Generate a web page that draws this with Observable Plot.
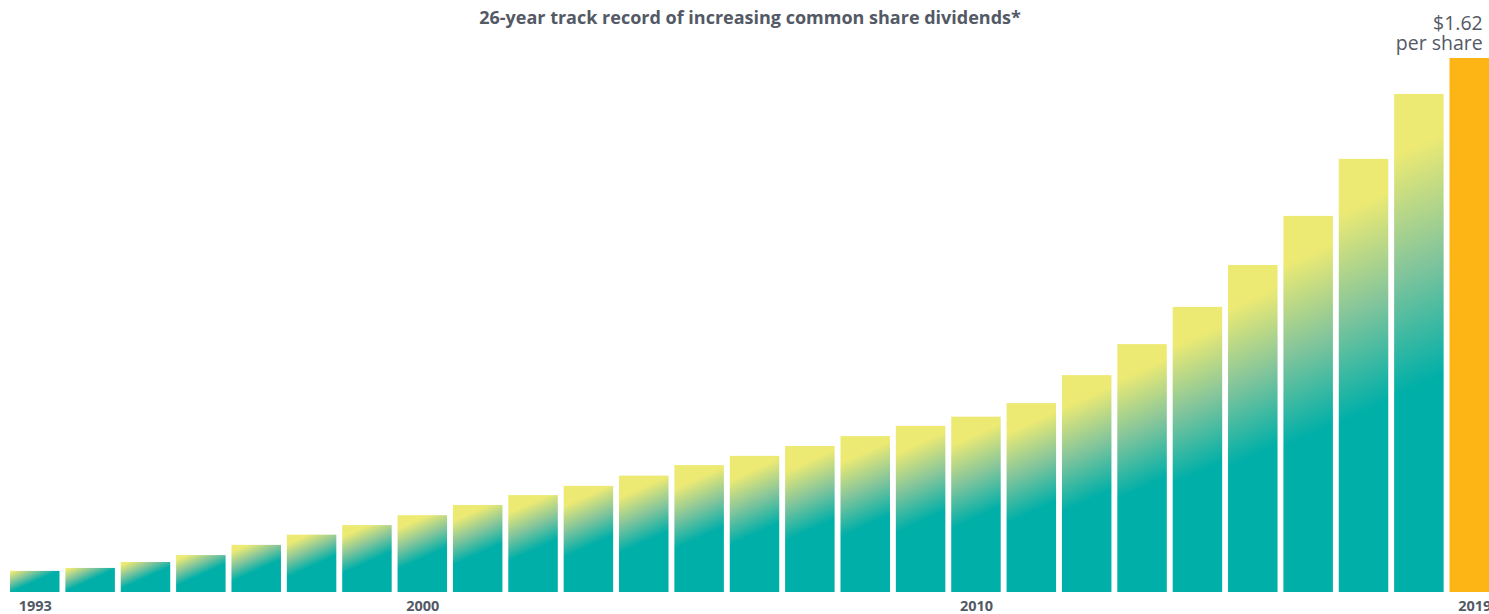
<!DOCTYPE html>
<html>
<head>
<meta charset="utf-8">
<script src="https://cdn.jsdelivr.net/npm/d3@7"></script>
<script src="https://cdn.jsdelivr.net/npm/@observablehq/plot@0.6"></script>
<style>
  html, body { margin: 0; padding: 0; background: #fff; overflow: hidden; }
  #chart { width: 1489px; height: 614px; overflow: hidden; }
  #chart svg { overflow: hidden !important; display: block; }
</style>
</head>
<body>
<div id="chart"></div>
<script>
// Annual common share dividend per share, 1993–2019
const years = [1993, 1994, 1995, 1996, 1997, 1998, 1999, 2000, 2001, 2002, 2003, 2004, 2005, 2006,
               2007, 2008, 2009, 2010, 2011, 2012, 2013, 2014, 2015, 2016, 2017, 2018, 2019];
const dividends = [0.064, 0.073, 0.091, 0.112, 0.143, 0.174, 0.203, 0.233, 0.264, 0.294, 0.322, 0.353,
                   0.385, 0.413, 0.443, 0.473, 0.504, 0.532, 0.573, 0.658, 0.752, 0.865, 0.992, 1.141,
                   1.314, 1.511, 1.62];
const tickYears = [1993, 2000, 2010, 2019];
const title = "26-year track record of increasing common share dividends*";
const latestUnit = "per share";

const rows = years.map((year, i) => ({year, value: dividends[i]}));
const latest = rows[rows.length - 1];

const TEAL = "#00afa8";
const MID = "#84c59b";
const YELLOW = "#edea73";
const ORANGE = "#fdb515";
const INK = "#535965";

const plot = Plot.plot({
  width: 1489,
  height: 614,
  marginTop: 58,
  marginBottom: 22,
  marginLeft: 10,
  marginRight: 0,
  style: {fontFamily: "'Open Sans', sans-serif", background: "#fff", overflow: "hidden"},
  // the band range runs a little past the right edge, so the latest bar is cropped
  x: {type: "band", domain: years, range: [10, 1499], round: false, paddingInner: 0.106, paddingOuter: 0, align: 0},
  y: {domain: [0, 1.62], axis: null},
  color: {type: "identity"},
  marks: [
    Plot.barY(rows, {
      x: "year",
      y: "value",
      fill: d => d.year === latest.year ? ORANGE : `url(#div-grad-${d.year})`
    }),
    Plot.axisX({
      ticks: tickYears,
      tickFormat: d => `${d}`,
      tickSize: 0,
      tickPadding: 8,
      fontSize: 14.5,
      fontWeight: "bold",
      color: INK,
      label: null
    }),
    Plot.text([latest], {
      x: "year",
      y: "value",
      text: d => `$${d.value.toFixed(2)}\n${latestUnit}`,
      textAnchor: "end",
      lineAnchor: "bottom",
      lineHeight: 1.0,
      dx: 8,
      dy: -9,
      fontSize: 19.5,
      fill: INK
    }),
    Plot.text([title], {
      frameAnchor: "top",
      dy: -47,
      fontSize: 18,
      fontWeight: "bold",
      fill: INK
    })
  ]
});

// One diagonal gradient per bar: yellow near the top fading to teal toward the base,
// with colour bands tilted up to the right.
const xs = plot.scale("x");
const ys = plot.scale("y");
const slope = 0.45;
const defs = d3.select(plot).insert("defs", ":first-child");
for (const d of rows) {
  if (d.year === latest.year) continue;
  const w = xs.bandwidth;
  const x0 = xs.apply(d.year);
  const top = ys.apply(d.value);
  const base = ys.apply(0);
  const h = base - top;
  const cx = x0 + w / 2;
  const yA = top + 0.1 * h - 14 * Math.max(0, 1 - h / 120);
  const yB = top + 0.59 * h - 2;
  const k = (yB - yA) / (1 + slope * slope);
  const g = defs.append("linearGradient")
    .attr("id", `div-grad-${d.year}`)
    .attr("gradientUnits", "userSpaceOnUse")
    .attr("x1", cx).attr("y1", yA)
    .attr("x2", cx + slope * k).attr("y2", yA + k);
  g.append("stop").attr("offset", 0).attr("stop-color", YELLOW);
  g.append("stop").attr("offset", 0.5).attr("stop-color", MID);
  g.append("stop").attr("offset", 1).attr("stop-color", TEAL);
}

document.getElementById("chart").append(plot);
</script>
</body>
</html>
